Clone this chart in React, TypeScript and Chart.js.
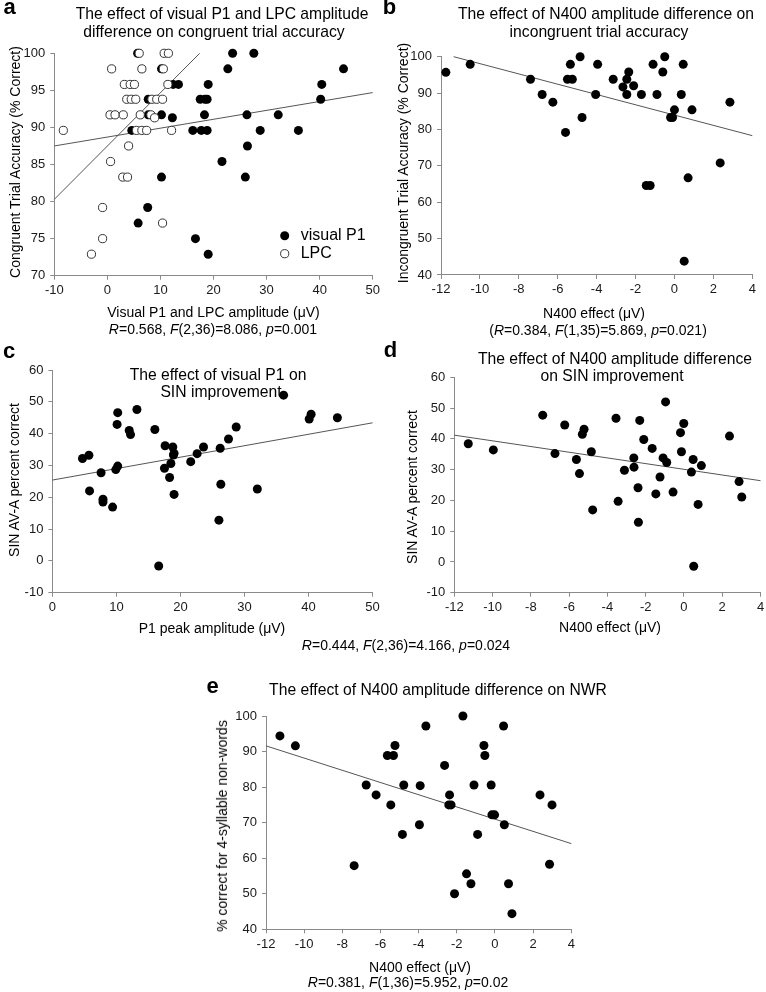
import React, { useEffect, useRef } from 'react';
import { Chart, registerables } from 'chart.js';

Chart.register(...registerables);

// ---------------- DATA ----------------
// Panel a: congruent trial accuracy vs visual P1 (filled) and LPC (open) amplitude
const aP1: number[][] = [
  [23.6, 100], [27.6, 100], [5.7, 100],
  [10.2, 97.9], [22.7, 97.9], [44.5, 97.9],
  [12.4, 95.8], [13.4, 95.8], [19.0, 95.8], [40.4, 95.8],
  [7.7, 93.8], [17.5, 93.8], [18.4, 93.8], [18.8, 93.8], [40.2, 93.8],
  [7.7, 91.7], [10.2, 91.7], [18.3, 91.7], [26.3, 91.7], [32.2, 91.7],
  [12.25, 91.3],
  [4.6, 89.6], [16.1, 89.6], [17.7, 89.6], [18.8, 89.6], [28.8, 89.6], [36.0, 89.6],
  [26.4, 87.5], [21.6, 85.4], [10.2, 83.3], [26.0, 83.3],
  [7.6, 79.2], [5.8, 77.1], [16.6, 75.0], [19.0, 72.9],
];
const aLPC: number[][] = [
  [6.0, 100], [10.7, 100], [11.5, 100],
  [0.8, 97.9], [6.5, 97.9], [10.55, 97.9],
  [3.2, 95.8], [4.3, 95.8], [5.1, 95.8], [11.4, 95.8],
  [3.65, 93.8], [4.5, 93.8], [5.35, 93.8], [8.4, 93.8], [9.3, 93.8], [10.4, 93.8],
  [0.5, 91.7], [1.45, 91.7], [3.0, 91.7], [6.2, 91.7], [8.2, 91.7],
  [8.9, 91.3],
  [-8.3, 89.6], [5.5, 89.6], [6.5, 89.6], [7.4, 89.6], [12.1, 89.6],
  [4.0, 87.5], [0.6, 85.4], [2.9, 83.3], [3.8, 83.3],
  [-0.9, 79.2], [10.4, 77.1], [-0.9, 75.0], [-3.0, 72.9],
];
const aFitLPC: number[][] = [[-10, 80.3], [17.4, 100]];
const aFitP1: number[][] = [[-10, 87.5], [50, 94.7]];

// Panel b: incongruent trial accuracy vs N400 effect
const bPts: number[][] = [
  [-11.75, 95.7], [-10.5, 97.9], [-7.4, 93.8], [-6.8, 89.6], [-6.25, 87.5], [-5.6, 79.2],
  [-5.5, 93.8], [-5.35, 97.9], [-5.25, 93.8], [-4.85, 100], [-4.75, 83.3], [-4.05, 89.6],
  [-3.95, 97.9], [-3.15, 93.8], [-2.65, 91.7], [-2.45, 93.8], [-2.45, 89.6], [-2.35, 95.8],
  [-2.1, 92.0], [-1.7, 89.6], [-1.45, 64.6], [-1.25, 64.6], [-1.1, 97.9], [-0.9, 89.6],
  [-0.6, 95.8], [-0.5, 100], [-0.2, 83.3], [-0.1, 83.3], [0.0, 85.4], [0.35, 89.6],
  [0.45, 97.9], [0.5, 43.8], [0.7, 66.7], [0.9, 85.4], [2.35, 70.8], [2.85, 87.5],
];
const bFit: number[][] = [[-11.35, 100], [4, 78.3]];

// Panel c: SIN AV-A vs P1 peak amplitude
const cPts: number[][] = [
  [4.7, 32.2], [5.7, 33.2], [5.8, 22.0], [7.6, 27.7], [7.9, 19.4], [7.9, 18.5], [9.4, 16.9],
  [9.9, 28.7], [10.2, 46.6], [10.1, 42.9], [10.2, 29.8], [12.0, 41.0], [12.2, 39.7],
  [13.2, 47.6], [16.0, 41.3], [16.6, -1.6], [17.5, 29.1], [17.6, 36.2], [18.3, 26.2],
  [18.5, 30.6], [18.8, 35.8], [18.9, 33.3], [19.0, 33.8], [19.0, 20.9], [21.6, 31.2],
  [22.6, 33.7], [23.6, 35.8], [26.0, 12.8], [26.2, 35.4], [26.3, 24.1], [27.5, 38.3],
  [28.7, 42.1], [32.0, 22.6], [36.1, 52.1], [40.1, 44.6], [40.4, 46.1], [44.5, 45.0],
];
const cFit: number[][] = [[0, 25.4], [50, 43.4]];

// Panel d: SIN AV-A vs N400 effect
const dPts: number[][] = [
  [-11.27, 38.4], [-9.96, 36.4], [-7.38, 47.7], [-6.74, 35.2], [-6.23, 44.5], [-5.62, 33.3],
  [-5.46, 28.7], [-5.31, 41.5], [-5.22, 43.1], [-4.84, 35.8], [-4.77, 16.9], [-3.55, 46.7],
  [-3.44, 19.7], [-3.11, 29.8], [-2.62, 33.8], [-2.61, 30.8], [-2.4, 24.1], [-2.38, 12.9],
  [-2.31, 46.0], [-2.1, 39.8], [-1.66, 36.9], [-1.47, 22.1], [-1.25, 27.6], [-1.09, 33.8],
  [-0.9, 32.3], [-0.57, 22.7], [-0.96, 52.0], [-0.18, 42.0], [-0.01, 45.0], [-0.13, 35.8],
  [0.39, 29.2], [0.48, 33.3], [0.51, -1.4], [0.74, 18.7], [0.91, 31.3], [2.38, 40.9],
  [2.88, 26.1], [3.02, 21.1],
];
const dFit: number[][] = [[-12, 41.2], [4, 26.4]];

// Panel e: NWR (4-syllable non-words) vs N400 effect
const ePts: number[][] = [
  [-11.27, 94.4], [-10.46, 91.6], [-7.38, 57.9], [-6.75, 80.6], [-6.23, 77.8], [-5.64, 88.9],
  [-5.46, 75.0], [-5.32, 88.9], [-5.24, 91.7], [-4.85, 66.7], [-4.78, 80.6], [-3.96, 69.4],
  [-3.92, 80.4], [-3.62, 97.2], [-2.64, 86.1], [-2.42, 75.0], [-2.38, 77.8], [-2.3, 75.0],
  [-2.12, 50.0], [-1.68, 100], [-1.49, 55.6], [-1.26, 52.8], [-1.1, 80.6], [-0.91, 66.7],
  [-0.58, 91.7], [-0.53, 88.9], [-0.2, 80.6], [-0.16, 72.2], [-0.02, 72.2], [0.45, 97.2],
  [0.49, 69.4], [0.71, 52.8], [0.89, 44.4], [2.36, 77.8], [2.86, 58.3], [2.99, 75.0],
];
const eFit: number[][] = [[-12, 91.6], [4, 64.1]];

// axis ranges [min, max, step]
const aX = [-10, 50, 10], aY = [70, 100, 5];
const bX = [-12, 4, 2], bY = [40, 100, 10];
const cX = [0, 50, 10], cY = [-10, 60, 10];
const dX = [-12, 4, 2], dY = [-10, 60, 10];
const eX = [-12, 4, 2], eY = [40, 100, 10];

// ---------------- STYLE / LAYOUT ----------------
const PAGE_W = 766;
const PAGE_H = 992;
const FONT = '"Liberation Sans", Arial, Helvetica, sans-serif';
const AXIS = '#8a8a8a';
const TICK = '#1a1a1a';
const REG = '#555555';
const Y_W = 40;
const X_H = 30;

type Rect = { left: number; right: number; top: number; bottom: number };
const toPts = (arr: number[][]) => arr.map(([x, y]) => ({ x, y }));

function axis(r: number[], horizontal: boolean) {
  return {
    type: 'linear',
    position: horizontal ? 'bottom' : 'left',
    min: r[0],
    max: r[1],
    ticks: {
      stepSize: r[2],
      color: TICK,
      font: { family: FONT, size: 13 },
      padding: horizontal ? 3 : 5,
      maxRotation: 0,
      autoSkip: false,
    },
    grid: { display: true, drawOnChartArea: false, drawTicks: true, tickLength: 4, color: AXIS, lineWidth: 1 },
    border: { display: true, color: AXIS, width: 1 },
    afterFit: (s: any) => {
      if (horizontal) s.height = X_H;
      else s.width = Y_W;
      s.paddingLeft = 0;
      s.paddingRight = 0;
      s.paddingTop = 0;
      s.paddingBottom = 0;
    },
  };
}

const filled = (data: number[][]) => ({
  type: 'scatter',
  data: toPts(data),
  pointRadius: 4.5,
  pointBackgroundColor: '#000',
  pointBorderWidth: 0,
  pointBorderColor: '#000',
  clip: false,
});
const open = (data: number[][]) => ({
  type: 'scatter',
  data: toPts(data),
  pointRadius: 4.1,
  pointBackgroundColor: '#fff',
  pointBorderColor: '#333',
  pointBorderWidth: 1,
  clip: false,
});
const fit = (data: number[][]) => ({
  type: 'scatter',
  data: toPts(data),
  showLine: true,
  borderColor: REG,
  borderWidth: 1,
  pointRadius: 0,
  clip: false,
});

const legendPlugin = {
  id: 'panelALegend',
  afterDatasetsDraw(chart: any) {
    const { ctx, chartArea } = chart;
    const mx = chartArea.right - 88;
    const y1 = chartArea.bottom - 40;
    const y2 = chartArea.bottom - 22;
    ctx.save();
    ctx.beginPath();
    ctx.arc(mx, y1, 4.5, 0, Math.PI * 2);
    ctx.fillStyle = '#000';
    ctx.fill();
    ctx.beginPath();
    ctx.arc(mx, y2, 4.1, 0, Math.PI * 2);
    ctx.fillStyle = '#fff';
    ctx.fill();
    ctx.lineWidth = 1;
    ctx.strokeStyle = '#333';
    ctx.stroke();
    ctx.fillStyle = '#000';
    ctx.font = `16px ${FONT}`;
    ctx.textBaseline = 'middle';
    ctx.textAlign = 'left';
    ctx.fillText('visual P1', mx + 16, y1);
    ctx.fillText('LPC', mx + 16, y2);
    ctx.restore();
  },
};

function Panel({ rect, xr, yr, datasets, plugins = [] }: { rect: Rect; xr: number[]; yr: number[]; datasets: any[]; plugins?: any[] }) {
  const ref = useRef<HTMLCanvasElement | null>(null);
  useEffect(() => {
    if (!ref.current) return;
    const chart = new Chart(ref.current, {
      type: 'scatter',
      data: { datasets },
      options: {
        responsive: false,
        maintainAspectRatio: false,
        animation: false,
        events: [],
        devicePixelRatio: 1,
        layout: {
          padding: {
            left: rect.left - Y_W,
            top: rect.top,
            right: PAGE_W - rect.right,
            bottom: PAGE_H - rect.bottom - X_H,
          },
        },
        plugins: { legend: { display: false }, tooltip: { enabled: false }, title: { display: false } },
        scales: { x: axis(xr, true), y: axis(yr, false) },
      } as any,
      plugins,
    } as any);
    return () => chart.destroy();
  }, []);
  return (
    <canvas
      ref={ref}
      width={PAGE_W}
      height={PAGE_H}
      style={{ position: 'absolute', left: 0, top: 0, width: PAGE_W, height: PAGE_H }}
    />
  );
}

function Txt({ cx, cy, size, children, rot = false, bold = false }: { cx: number; cy: number; size: number; children: any; rot?: boolean; bold?: boolean }) {
  return (
    <div
      style={{
        position: 'absolute',
        left: cx,
        top: cy,
        transform: `translate(-50%, -50%)${rot ? ' rotate(-90deg)' : ''}`,
        fontSize: size,
        fontFamily: FONT,
        fontWeight: bold ? 'bold' : 'normal',
        whiteSpace: 'nowrap',
        lineHeight: 1.15,
        color: '#000',
      }}
    >
      {children}
    </div>
  );
}

const T = 15.7; // titles
const A = 14; // axis titles & stats
const L = 22; // panel letters

export default function App() {
  return (
    <div style={{ position: 'absolute', left: 0, top: 0, width: PAGE_W, height: PAGE_H, background: '#fff', overflow: 'hidden' }}>
      <Panel
        rect={{ left: 54.3, right: 372.7, top: 53.3, bottom: 275.7 }}
        xr={aX}
        yr={aY}
        datasets={[open(aLPC), filled(aP1), fit(aFitLPC), fit(aFitP1)]}
        plugins={[legendPlugin]}
      />
      <Panel rect={{ left: 441, right: 752.3, top: 56.7, bottom: 275 }} xr={bX} yr={bY} datasets={[filled(bPts), fit(bFit)]} />
      <Panel rect={{ left: 52.4, right: 372.6, top: 370, bottom: 592.7 }} xr={cX} yr={cY} datasets={[filled(cPts), fit(cFit)]} />
      <Panel rect={{ left: 454.3, right: 760.5, top: 377.3, bottom: 592.7 }} xr={dX} yr={dY} datasets={[filled(dPts), fit(dFit)]} />
      <Panel rect={{ left: 266, right: 571.3, top: 716, bottom: 929.3 }} xr={eX} yr={eY} datasets={[filled(ePts), fit(eFit)]} />

      {/* Panel a text */}
      <Txt cx={9.5} cy={7} size={L} bold>a</Txt>
      <Txt cx={222} cy={14} size={T}>The effect of visual P1 and LPC amplitude</Txt>
      <Txt cx={214} cy={31.5} size={T}>difference on congruent trial accuracy</Txt>
      <Txt cx={15} cy={162} size={A} rot>Congruent Trial Accuracy (% Correct)</Txt>
      <Txt cx={213.5} cy={312} size={A}>Visual P1 and LPC amplitude (μV)</Txt>
      <Txt cx={213} cy={329} size={A}><i>R</i>=0.568, <i>F</i>(2,36)=8.086, <i>p</i>=0.001</Txt>

      {/* Panel b text */}
      <Txt cx={389.5} cy={6.7} size={L} bold>b</Txt>
      <Txt cx={606} cy={14} size={T}>The effect of N400 amplitude difference on</Txt>
      <Txt cx={599} cy={32} size={T}>incongruent trial accuracy</Txt>
      <Txt cx={403} cy={163} size={A} rot>Incongruent Trial Accuracy (% Correct)</Txt>
      <Txt cx={594} cy={313} size={A}>N400 effect (μV)</Txt>
      <Txt cx={598} cy={330} size={A}>(<i>R</i>=0.384, <i>F</i>(1,35)=5.869, <i>p</i>=0.021)</Txt>

      {/* Panel c text */}
      <Txt cx={9} cy={350.5} size={L} bold>c</Txt>
      <Txt cx={218} cy={375} size={T}>The effect of visual P1 on</Txt>
      <Txt cx={221} cy={392} size={T}>SIN improvement</Txt>
      <Txt cx={14} cy={480} size={A} rot>SIN AV-A percent correct</Txt>
      <Txt cx={212} cy={628} size={A}>P1 peak amplitude (μV)</Txt>
      <Txt cx={406} cy={645} size={A}><i>R</i>=0.444, <i>F</i>(2,36)=4.166, <i>p</i>=0.024</Txt>

      {/* Panel d text */}
      <Txt cx={390.5} cy={350} size={L} bold>d</Txt>
      <Txt cx={615} cy={359} size={T}>The effect of N400 amplitude difference</Txt>
      <Txt cx={612} cy={376} size={T}>on SIN improvement</Txt>
      <Txt cx={411.7} cy={487} size={A} rot>SIN AV-A percent correct</Txt>
      <Txt cx={610} cy={627} size={A}>N400 effect (μV)</Txt>

      {/* Panel e text */}
      <Txt cx={212.5} cy={685.5} size={L} bold>e</Txt>
      <Txt cx={438} cy={690} size={T}>The effect of N400 amplitude difference on NWR</Txt>
      <Txt cx={221.7} cy={826} size={A} rot>% correct for 4-syllable non-words</Txt>
      <Txt cx={420} cy={967} size={A}>N400 effect (μV)</Txt>
      <Txt cx={408} cy={982} size={A}><i>R</i>=0.381, <i>F</i>(1,36)=5.952, <i>p</i>=0.02</Txt>
    </div>
  );
}
